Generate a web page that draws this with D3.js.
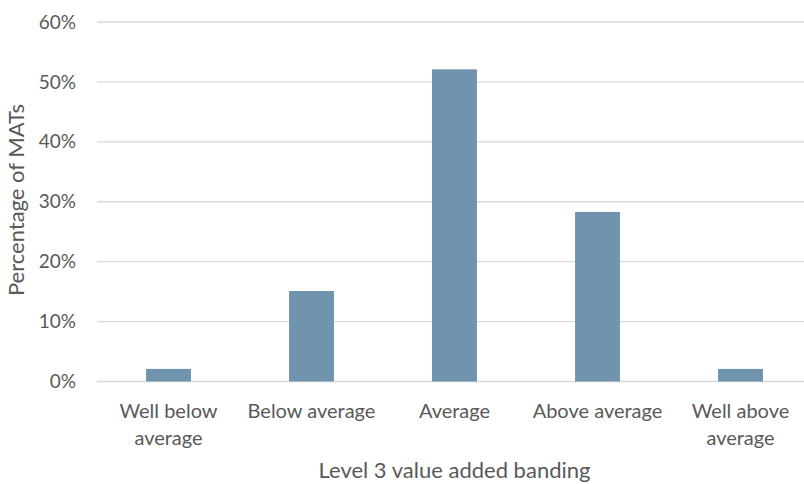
<!DOCTYPE html>
<html>
<head>
<meta charset="utf-8">
<script src="https://cdn.jsdelivr.net/npm/d3@7"></script>
<style>
  html, body { margin: 0; padding: 0; background: #fff; }
  svg { display: block; }
  text { font-family: Lato, "Open Sans", sans-serif; fill: #595959; }
</style>
</head>
<body>
<svg id="chart" width="804" height="484"></svg>
<script>
// Share of MATs by Level 3 value added band
const categories = [
  ["Well below", "average"],
  ["Below average"],
  ["Average"],
  ["Above average"],
  ["Well above", "average"]
];
const values = [2.1, 15.1, 52.1, 28.3, 2.1];
const yTicks = [0, 10, 20, 30, 40, 50, 60];

const svg = d3.select("#chart");
const plotLeft = 97, plotRight = 812, plotTop = 22, plotBottom = 381.5;

const x = d3.scaleBand()
  .domain(d3.range(categories.length))
  .range([plotLeft, plotRight])
  .paddingInner(0.686)
  .paddingOuter(0.343);

const y = d3.scaleLinear().domain([0, 60]).range([plotBottom, plotTop]);

// horizontal gridlines
svg.append("g")
  .selectAll("line")
  .data(yTicks)
  .join("line")
  .attr("x1", plotLeft).attr("x2", plotRight)
  .attr("y1", d => y(d)).attr("y2", d => y(d))
  .attr("stroke", "#d9d9d9")
  .attr("stroke-width", 1.3);

// y tick labels
svg.append("g")
  .selectAll("text")
  .data(yTicks)
  .join("text")
  .attr("x", 76)
  .attr("y", d => y(d))
  .attr("dy", "0.35em")
  .attr("text-anchor", "end")
  .style("font-size", "19px")
  .text(d => d + "%");

// bars
svg.append("g")
  .selectAll("rect")
  .data(values)
  .join("rect")
  .attr("x", (d, i) => x(i))
  .attr("width", x.bandwidth())
  .attr("y", d => y(d))
  .attr("height", d => y(0) - y(d))
  .attr("fill", "#7094ae");

// category labels
const cat = svg.append("g")
  .selectAll("text")
  .data(categories)
  .join("text")
  .attr("text-anchor", "middle")
  .style("font-size", "20px")
  .attr("transform", (d, i) => `translate(${x(i) + x.bandwidth() / 2},418)`);
cat.selectAll("tspan")
  .data(d => d)
  .join("tspan")
  .attr("x", 0)
  .attr("y", (d, j) => j * 27)
  .text(d => d);

// axis titles
svg.append("text")
  .attr("x", (plotLeft + plotRight) / 2)
  .attr("y", 478)
  .attr("text-anchor", "middle")
  .style("font-size", "22px")
  .text("Level 3 value added banding");

svg.append("text")
  .attr("transform", "translate(24,200) rotate(-90)")
  .attr("text-anchor", "middle")
  .style("font-size", "22px")
  .text("Percentage of MATs");
</script>
</body>
</html>
